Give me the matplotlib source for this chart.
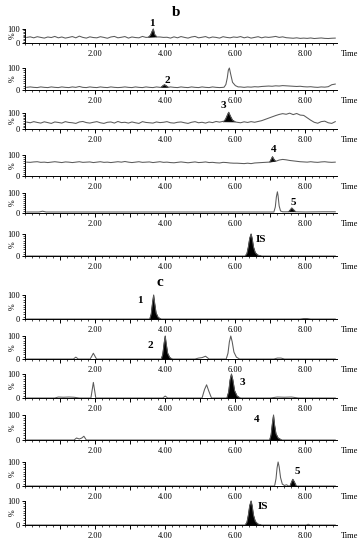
import numpy as np
import matplotlib
matplotlib.use('Agg')
import matplotlib.pyplot as plt
from matplotlib.ticker import MultipleLocator

plt.rcParams['font.family'] = ['Liberation Serif', 'DejaVu Serif']

# sampling times (min) used for the noisy baselines of the blank traces
grid = np.round(np.arange(0.05, 8.9, 0.1), 2)

# ---- panel b : blank plasma traces, % intensity ----
b1_base = [40, 44, 37, 45, 40, 35, 43, 39, 47, 37,
           43, 35, 40, 46, 37, 49, 40, 35, 44, 39,
           37, 45, 40, 34, 43, 47, 37, 41, 46, 35,
           43, 39, 37, 47, 40, 43, 45, 49, 43, 40,
           41, 35, 44, 37, 46, 40, 35, 43, 47, 37,
           41, 46, 36, 43, 40, 35, 45, 40, 37, 43,
           40, 46, 37, 43, 35, 40, 45, 37, 43, 40,
           43, 47, 40, 44, 38, 36, 34, 37, 33, 35,
           33, 36, 32, 34, 36, 33, 32, 34, 35]
b2_base = [12, 14, 12, 11, 14, 12, 11, 14, 12, 11,
           14, 12, 11, 14, 12, 16, 12, 11, 14, 12,
           11, 14, 12, 11, 14, 12, 11, 12, 14, 12,
           11, 14, 12, 11, 14, 12, 11, 14, 12, 11,
           12, 14, 12, 11, 14, 12, 11, 14, 12, 11,
           14, 12, 11, 14, 12, 11, 12, 14, 12, 12,
           12, 14, 12, 14, 13, 15, 14, 16, 17, 18,
           17, 19, 18, 20, 19, 18, 17, 16, 17, 15,
           14, 15, 13, 12, 14, 13, 15, 24, 27]
b3_base = [43, 39, 46, 41, 37, 45, 40, 35, 44, 41,
           37, 46, 41, 39, 35, 44, 47, 40, 37, 42,
           46, 39, 35, 42, 44, 37, 47, 40, 42, 37,
           44, 39, 35, 46, 41, 39, 37, 44, 40, 42,
           46, 39, 37, 42, 44, 39, 35, 42, 46, 39,
           42, 37, 44, 40, 47, 43, 48, 43, 50, 45,
           42, 39, 45, 41, 46, 42, 47, 52, 60, 68,
           76, 84, 91, 96, 92, 99, 90, 97, 87, 85,
           70, 55, 42, 36, 46, 49, 39, 35, 46]
b4_base = [66, 65, 67, 68, 65, 66, 64, 66, 68, 66,
           64, 67, 66, 64, 66, 68, 65, 66, 67, 64,
           66, 68, 65, 66, 64, 66, 68, 66, 69, 66,
           64, 66, 68, 65, 66, 67, 64, 66, 68, 65,
           66, 64, 63, 65, 67, 65, 63, 65, 67, 64,
           65, 67, 64, 65, 63, 62, 65, 64, 62, 61,
           61, 60, 59, 61, 59, 62, 63, 64, 65, 66,
           68, 72, 76, 79, 77, 74, 72, 70, 68, 67,
           66, 68, 66, 65, 67, 68, 66, 65, 66]
b5_base_t = [0.05, 0.4, 0.5, 0.6, 1.0, 3.0, 5.0, 7.0, 8.0, 8.5, 8.85]
b5_base = [5, 5, 9, 5, 5, 5, 5, 5, 5, 6, 6]
flat_t = [0.05, 8.85]
flat_y = [0, 0]

# peaks: (times, values, filled)
b1_peaks = [([3.52, 3.58, 3.63, 3.66, 3.70, 3.76], [41, 55, 85, 100, 60, 43], True)]
b2_peaks = [([3.88, 3.94, 3.98, 4.03, 4.09], [12, 20, 24, 19, 12], True),
            ([5.68, 5.73, 5.77, 5.80, 5.83, 5.87, 5.92, 6.0, 6.08],
             [13, 25, 55, 90, 100, 70, 35, 20, 14], False)]
b3_peaks = [([5.66, 5.72, 5.77, 5.81, 5.86, 5.92, 6.0], [45, 60, 85, 105, 80, 55, 44], True)]
b4_peaks = [([6.98, 7.02, 7.06, 7.10, 7.15], [66, 78, 92, 80, 70], True)]
b5_peaks = [([7.10, 7.14, 7.17, 7.20, 7.22, 7.25, 7.29, 7.35], [5, 30, 80, 106, 85, 35, 10, 6], False),
            ([7.52, 7.57, 7.61, 7.65, 7.72], [6, 16, 25, 18, 6], True)]
is_peak = ([6.28, 6.33, 6.37, 6.41, 6.45, 6.48, 6.52, 6.57, 6.64, 6.74],
           [0, 10, 40, 80, 100, 80, 40, 15, 4, 0], True)
b6_peaks = [is_peak]

# ---- panel c : spiked plasma traces ----
c1_peaks = [([3.56, 3.60, 3.64, 3.67, 3.70, 3.74, 3.80, 3.88], [0, 20, 70, 100, 65, 25, 6, 0], True),
            ([7.85, 7.95, 8.05, 8.15], [0, 2, 2, 0], False)]
c2_peaks = [([1.38, 1.45, 1.52], [0, 8, 0], False),
            ([1.86, 1.95, 2.04], [0, 25, 0], False),
            ([3.89, 3.93, 3.97, 4.00, 4.03, 4.07, 4.13, 4.20], [0, 20, 70, 100, 65, 25, 6, 0], True),
            ([4.85, 4.95, 5.05, 5.15, 5.25], [0, 4, 6, 12, 0], False),
            ([5.74, 5.79, 5.83, 5.87, 5.91, 5.96, 6.03, 6.12], [0, 25, 75, 100, 75, 30, 8, 0], False),
            ([7.1, 7.2, 7.3, 7.4], [0, 4, 4, 0], False)]
c3_peaks = [([0.85, 0.95, 1.1, 1.25, 1.4, 1.55], [0, 4, 3, 4, 3, 0], False),
            ([1.88, 1.95, 2.02], [0, 65, 0], False),
            ([3.93, 4.0, 4.07], [0, 8, 0], False),
            ([5.05, 5.12, 5.18, 5.24, 5.32], [0, 35, 55, 30, 0], False),
            ([5.76, 5.81, 5.85, 5.89, 5.93, 5.98, 6.05, 6.14], [0, 25, 75, 100, 75, 30, 8, 0], True),
            ([7.0, 7.2, 7.4, 7.6, 7.8], [0, 4, 3, 4, 0], False)]
c4_peaks = [([1.40, 1.47, 1.55, 1.62, 1.68, 1.75], [0, 8, 4, 8, 15, 0], False),
            ([6.98, 7.02, 7.06, 7.09, 7.12, 7.16, 7.22, 7.32], [0, 20, 70, 100, 60, 25, 8, 0], True)]
c5_peaks = [([7.12, 7.16, 7.19, 7.22, 7.25, 7.29, 7.34, 7.40, 7.46, 7.52], [0, 30, 75, 100, 80, 35, 8, 2, 5, 0], False),
            ([7.56, 7.60, 7.64, 7.68, 7.74], [0, 15, 28, 18, 0], True)]
c6_peaks = [is_peak, ([8.02, 8.08, 8.14], [0, 3, 0], False)]

# trace list: base times, base values, peaks, label, label position (t, %)
traces = [
    (grid, b1_base, b1_peaks, '1', (3.62, 138)),
    (grid, b2_base, b2_peaks, '2', (4.06, 42)),
    (grid, b3_base, b3_peaks, '3', (5.66, 150)),
    (grid, b4_base, b4_peaks, '4', (7.08, 125)),
    (b5_base_t, b5_base, b5_peaks, '5', (7.65, 52)),
    (flat_t, flat_y, b6_peaks, 'IS', (6.72, 75)),
    (flat_t, flat_y, c1_peaks, '1', (3.27, 78)),
    (flat_t, flat_y, c2_peaks, '2', (3.57, 57)),
    (flat_t, flat_y, c3_peaks, '3', (6.2, 64)),
    (flat_t, flat_y, c4_peaks, '4', (6.62, 82)),
    (flat_t, flat_y, c5_peaks, '5', (7.76, 60)),
    (flat_t, flat_y, c6_peaks, 'IS', (6.78, 76)),
]

# pixel rows of each panel (y of 100 %, y of 0 %)
rows = [(29, 43), (68, 90), (113, 129), (155, 176), (193, 213), (234, 256),
        (295, 319), (336, 359), (374, 398), (415, 440), (462, 486), (501, 525)]

W, H = 364, 550
fig = plt.figure(figsize=(W / 100, H / 100), dpi=100)


def build(bt, by, peaks):
    pts = list(zip(bt, by))
    for pt, py, _ in peaks:
        pts = [p for p in pts if p[0] < pt[0] or p[0] > pt[-1]]
        pts += list(zip(pt, py))
    pts.sort()
    t, y = zip(*pts)
    return t, y


for (bt, by, peaks, lab, lpos), (ytop, ybot) in zip(traces, rows):
    ax = fig.add_axes([25 / W, 1 - ybot / H, 312 / W, (ybot - ytop) / H])
    t, y = build(bt, by, peaks)
    ax.plot(t, y, color='#5a5a5a', lw=0.75, clip_on=False)
    for pt, py, filled in peaks:
        if filled:
            ax.fill(pt, py, color='black', lw=0.5, clip_on=False)
    ax.text(lpos[0], lpos[1], lab, fontsize=8, fontweight='bold',
            ha='center', va='center', clip_on=False)

    ax.set_xlim(0, 8.9)
    ax.set_ylim(0, 100)
    for s in ['top', 'right']:
        ax.spines[s].set_visible(False)
    ax.spines['left'].set_linewidth(0.7)
    ax.spines['bottom'].set_linewidth(0.7)
    ax.patch.set_alpha(0)

    ax.set_xticks([1, 2, 3, 4, 5, 6, 7, 8])
    ax.set_xticklabels(['', '2.00', '', '4.00', '', '6.00', '', '8.00'])
    ax.xaxis.set_minor_locator(MultipleLocator(0.2))
    ax.set_yticks([0, 100])
    ax.set_yticklabels(['0', '100'])
    ax.yaxis.set_minor_locator(MultipleLocator(10))
    ax.tick_params(axis='x', which='major', length=3, width=0.7, labelsize=6, pad=2)
    ax.tick_params(axis='x', which='minor', length=1.7, width=0.5)
    ax.tick_params(axis='y', which='major', length=2.5, width=0.7, labelsize=6, pad=1.2)
    ax.tick_params(axis='y', which='minor', length=1.5, width=0.5)

    ax.annotate('%', xy=(0, 0.5), xycoords='axes fraction', xytext=(-9, 0),
                textcoords='offset points', fontsize=5.8, rotation=90,
                ha='center', va='center')
    ax.annotate('Time', xy=(1, 0), xycoords='axes fraction', xytext=(3, -8),
                textcoords='offset points', fontsize=6, ha='left', va='center')

fig.text(176 / W, 1 - 13 / H, 'b', fontsize=11, fontweight='bold', ha='center', va='center')
fig.text(160 / W, 1 - 283 / H, 'c', fontsize=11, fontweight='bold', ha='center', va='center')

fig.savefig('out.png', dpi=100)
